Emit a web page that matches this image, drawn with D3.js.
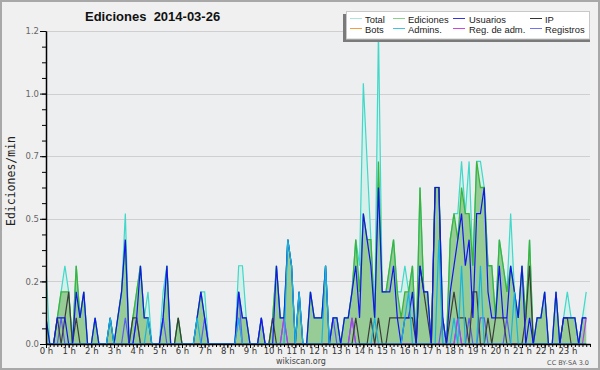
<!DOCTYPE html>
<html><head><meta charset="utf-8">
<script src="https://cdn.jsdelivr.net/npm/d3@7/dist/d3.min.js"></script>
<style>html,body{margin:0;padding:0;background:#f0f0f0}svg{display:block}</style>
</head><body><svg id="c" width="600" height="370"></svg>
<script>
// ---- data (edits per minute, 10-minute bins, 144 per day) ----
const hourLabels = ["0 h","1 h","2 h","3 h","4 h","5 h","6 h","7 h","8 h","9 h","10 h","11 h","12 h","13 h","14 h","15 h","16 h","17 h","18 h","19 h","20 h","21 h","22 h","23 h"];
const yTickValues = [0, 0.24, 0.48, 0.72, 0.96, 1.2];
const yMax = 1.2;

const total = [
 .3,0,0,.1,.2,.3,  .2,0,.3,.1,.2,0,  0,.1,0,0,0,.1,  0,.1,.2,.5,0,.1,
 .2,.3,.1,.2,0,0,  0,.2,.3,0,0,.1,  0,0,0,0,.1,.2,  .2,0,0,0,0,0,
 0,0,0,.3,.3,.1,  0,0,0,.1,0,0,  .1,.3,.1,.1,.4,.3,  0,.2,0,0,.2,.1,
 .1,.1,.3,0,.1,.1,  0,.1,.1,.2,.4,.3,  1.0,.7,.4,.1,1.2,.2,  .2,.3,.4,.2,.2,.3,
 .2,.3,0,.6,.2,.2,  0,.6,.6,.1,0,.4,  .5,.5,.7,.5,.7,.3,  .7,.7,.6,.3,.3,.1,
 .4,.3,.2,.5,.2,.1,  .3,.1,.4,0,.1,.1,  .2,0,0,.2,0,.1,  .2,.1,.1,0,.1,.2
];
const ediciones = [
 .1,0,0,.1,.2,.2,  .2,0,.3,.1,.2,0,  0,.1,0,0,0,.1,  0,.1,.2,.4,0,.1,
 .2,.3,.1,.1,0,0,  0,.1,.3,0,0,.1,  0,0,0,0,.1,.2,  .1,0,0,0,0,0,
 0,0,0,.2,.1,.1,  0,0,0,.1,0,0,  .1,.3,.1,.1,.4,.3,  0,.2,0,0,.2,.1,
 .1,.1,.3,0,.1,.1,  0,.1,.1,.2,.4,.2,  .5,.4,.4,.1,.7,.2,  .2,.3,.4,.2,.1,.2,
 .2,.3,0,.6,.2,.2,  0,.6,.6,.1,0,.4,  .5,.4,.6,.5,.5,.3,  .7,.6,.6,.3,.3,.1,
 .4,.3,.2,.3,.2,.1,  .3,.1,.4,0,.1,.1,  .2,0,0,.2,0,.1,  .1,.1,.1,0,.1,.1
];
const usuarios = [
 .1,0,0,.1,.1,.1,  0,0,.2,.1,.2,0,  0,.1,0,0,0,.1,  0,.1,.2,.4,0,0,
 .1,.3,.1,.1,0,0,  0,.1,.3,0,0,0,  0,0,0,0,.1,.2,  .1,0,0,0,0,0,
 0,0,0,.2,.1,.1,  0,0,0,.1,0,0,  0,.3,.1,.1,.4,.3,  0,.2,0,0,.2,.1,
 .1,.1,.3,0,.1,.1,  0,.1,.1,.2,.3,.1,  .5,.4,.3,.1,.6,.2,  .2,.2,.3,.1,0,.1,
 .1,.2,0,.3,.2,.2,  0,.6,.6,.1,0,.2,  .3,.4,.5,.3,.4,.1,  .5,.5,.6,.2,.1,.1,
 .3,.1,.1,.3,.2,.1,  .3,0,.1,0,.1,.1,  .2,0,0,.2,0,.1,  .1,.1,.1,0,.1,.1
];
const ip = [
 0,0,0,.1,0,.1,  .2,0,.1,0,0,0,  0,0,0,0,0,0,  0,0,0,0,0,.1,
 .1,0,0,0,0,0,  0,0,0,0,0,.1,  0,0,0,0,0,0,  0,0,0,0,0,0,
 0,0,0,0,0,0,  0,0,0,0,0,0,  .1,0,0,0,0,0,  0,0,0,0,0,0,
 0,0,0,0,0,0,  0,0,0,0,.1,0,  0,0,.1,0,.1,0,  0,.1,.1,.1,.1,.1,
 .1,.1,0,.3,.2,.1,  0,.6,.6,0,0,.1,  .2,.1,.1,.1,0,.2,  .2,0,0,.1,0,.1,
 .1,.1,0,0,0,0,  0,.1,.3,0,0,0,  0,0,0,0,0,.1,  .1,0,0,0,0,0
];
const bots = new Array(144).fill(0);
const admins = [
 0,0,0,0,0,0,  0,0,0,0,0,0,  0,0,0,0,0,.1,  0,0,0,0,0,0,
 0,0,0,.1,0,0,  0,0,0,0,0,0,  0,0,0,0,.1,0,  0,0,0,0,0,0,
 0,0,0,.1,0,0,  0,0,0,0,0,0,  0,0,0,0,.4,.3,  0,.2,0,0,0,0,
 0,0,.3,0,0,0,  0,0,0,0,0,0,  0,0,0,.1,0,0,  0,0,0,0,0,.1,
 .2,0,0,0,0,0,  0,0,.4,0,0,0,  .1,0,.3,0,0,0,  0,.3,0,0,0,0,
 0,0,0,0,.2,0,  0,0,0,0,0,0,  0,0,0,0,0,0,  0,0,0,0,0,0
];
const regAdm = [
 0,0,0,0,0,0,  0,0,0,0,0,0,  0,0,0,0,0,0,  0,0,0,0,0,0,
 0,0,0,0,0,0,  0,0,0,0,0,0,  0,0,0,0,0,0,  0,0,0,0,0,0,
 0,0,0,.1,0,0,  0,0,0,0,0,0,  0,0,0,.1,0,0,  0,0,0,0,0,0,
 0,0,0,0,0,0,  0,0,0,.1,0,0,  0,0,0,0,0,0,  0,0,0,0,0,0,
 0,0,0,0,0,0,  0,0,0,0,0,0,  0,.1,0,0,0,0,  0,0,0,0,0,0,
 0,0,0,0,0,0,  0,0,0,0,0,0,  0,0,0,0,0,0,  0,0,0,0,0,.1
];
const registros = [
 0,0,0,0,.1,0,  0,0,0,0,0,0,  0,0,0,0,0,0,  0,0,0,.1,0,0,
 .1,0,0,0,0,0,  0,.1,0,0,0,0,  0,0,0,0,0,0,  .1,0,0,0,0,0,
 0,0,0,.2,0,0,  0,0,0,.1,0,0,  0,0,0,.1,0,0,  0,0,0,0,0,0,
 0,0,0,0,.1,0,  0,0,0,.1,0,0,  0,0,0,0,0,0,  0,0,0,0,0,0,
 0,0,0,0,0,0,  0,0,0,.1,0,0,  0,.1,0,0,.1,0,  0,.1,.1,0,0,0,
 0,0,.1,0,0,0,  0,0,0,0,0,0,  0,0,0,0,0,0,  0,0,0,0,.1,.1
];

const legendItems = [
  {name:"Total", color:"#a9e6df"}, {name:"Ediciones", color:"#86d286"},
  {name:"Usuarios", color:"#3434e4"}, {name:"IP", color:"#333333"},
  {name:"Bots", color:"#f0a040"}, {name:"Admins.", color:"#40c4e0"},
  {name:"Reg. de adm.", color:"#c848e0"}, {name:"Registros", color:"#7474ee"}
];

// ---- drawing ----
const svg = d3.select("#c");
const x = d3.scaleLinear().domain([0, 144]).range([46, 590]);
const y = d3.scaleLinear().domain([0, yMax]).range([344, 31]);
const idx = d3.range(144);

svg.append("rect").attr("x",0).attr("y",0).attr("width",600).attr("height",370).attr("fill","#f0f0f0");
svg.append("rect").attr("x",1).attr("y",1).attr("width",598).attr("height",368)
   .attr("fill","none").attr("stroke","#a8a8a8").attr("stroke-width",2);
svg.append("rect").attr("x",46).attr("y",31).attr("width",544).attr("height",313).attr("fill","#eceef0");

// gridlines
svg.append("g").selectAll("line").data(yTickValues.slice(1)).join("line")
  .attr("x1",46).attr("x2",590).attr("y1",d=>Math.round(y(d))+0.5).attr("y2",d=>Math.round(y(d))+0.5)
  .attr("stroke","#cfcfd2").attr("stroke-width",1);

svg.append("clipPath").attr("id","pc").append("rect")
  .attr("x",46).attr("y",30).attr("width",544).attr("height",315);
const plot = svg.append("g").attr("clip-path","url(#pc)");

const area = arr => d3.area().x(i=>x(i)).y0(y(0)).y1(i=>y(arr[i]))(idx);
const line = arr => d3.line().x(i=>x(i)).y(i=>y(arr[i]))(idx);

plot.append("path").attr("d", area(total)).attr("fill","#d3efea").attr("opacity",0.9);
plot.append("path").attr("d", area(ediciones)).attr("fill","#97cc97");

const lineSeries = [
  {d: total, c:"#40d8c8", w:1.2},
  {d: ediciones, c:"#3cb43c", w:1.3},
  {d: registros, c:"#5c5cf0", w:1.2},
  {d: regAdm, c:"#b040e8", w:1.2},
  {d: bots, c:"#f0a040", skip:true},
  {d: ip, c:"#3c3c3c", w:1.2},
  {d: usuarios, c:"#1414f0", w:1.2},
  {d: admins, c:"#18b4e0", w:1.2}
];
lineSeries.forEach(s => {
  if (s.skip) return;
  plot.append("path").attr("d", line(s.d)).attr("fill","none")
    .attr("stroke", s.c).attr("stroke-width",s.w).attr("stroke-linejoin","miter");
});

// y axis
const yMinor = d3.range(21).map(k => k * 0.06);
const yAx = svg.append("g").attr("transform","translate(46,0)")
  .call(d3.axisLeft(y).tickValues(yMinor).tickSize(4).tickSizeOuter(0).tickFormat(""));
yAx.select(".domain").attr("stroke","#000");
yAx.selectAll(".tick line").attr("stroke","#000");
const yAx2 = svg.append("g").attr("transform","translate(46,0)")
  .call(d3.axisLeft(y).tickValues(yTickValues).tickSize(6).tickSizeOuter(0).tickFormat(d3.format(".1f")).tickPadding(1));
yAx2.select(".domain").attr("stroke","#000").attr("stroke-width",1.5);
yAx2.selectAll(".tick line").attr("stroke","#000");
yAx2.selectAll(".tick text").attr("font-family","DejaVu Sans").attr("font-size","8.5px").attr("fill","#666");

// x axis
const xAx = svg.append("g").attr("transform","translate(0,344)")
  .call(d3.axisBottom(x).tickValues(d3.range(145)).tickSize(3).tickSizeOuter(0).tickFormat(""));
xAx.select(".domain").attr("stroke","#000").attr("stroke-width",1.5);
xAx.selectAll(".tick line").attr("stroke","#000");
const xAx2 = svg.append("g").attr("transform","translate(0,344)")
  .call(d3.axisBottom(x).tickValues(d3.range(24).map(h=>h*6)).tickSize(4).tickSizeOuter(0)
    .tickFormat((d,i)=>hourLabels[i]).tickPadding(0));
xAx2.select(".domain").remove();
xAx2.selectAll(".tick line").attr("stroke","#000");
xAx2.selectAll(".tick text").attr("font-family","DejaVu Sans").attr("font-size","8.5px").attr("fill","#333");

// titles
svg.append("text").attr("x",85).attr("y",21).attr("font-family","Liberation Sans")
  .attr("font-weight","bold").attr("font-size","13px").attr("fill","#111")
  .style("white-space","pre").text("Ediciones  2014-03-26");
svg.append("text").attr("transform","translate(15,181) rotate(-90)").attr("text-anchor","middle")
  .attr("font-family","DejaVu Sans Mono").attr("font-size","11.5px").attr("fill","#222").text("Ediciones/min");
svg.append("text").attr("x",301).attr("y",364).attr("text-anchor","middle")
  .attr("font-family","DejaVu Sans").attr("font-size","8px").attr("fill","#444").text("wikiscan.org");
svg.append("text").attr("x",589).attr("y",365).attr("text-anchor","end")
  .attr("font-family","DejaVu Sans").attr("font-size","6.5px").attr("fill","#555").text("CC BY-SA 3.0");

// legend
const lg = svg.append("g");
lg.append("rect").attr("x",343).attr("y",14).attr("width",247).attr("height",28).attr("fill","#7a7a7a");
lg.append("rect").attr("x",346.5).attr("y",11.5).attr("width",243).attr("height",27.5)
  .attr("fill","#ffffff").attr("stroke","#c8c8c8");
const colLine = [350, 393, 453, 530];
const colText = [365, 408, 469, 545];
legendItems.forEach((it, k) => {
  const c = k % 4, r = Math.floor(k / 4);
  const ly = 18.5 + r * 10;
  lg.append("line").attr("x1",colLine[c]).attr("x2",colLine[c]+12).attr("y1",ly).attr("y2",ly)
    .attr("stroke",it.color).attr("stroke-width",1);
  lg.append("text").attr("x",colText[c]).attr("y",ly+4).attr("font-family","Liberation Sans")
    .attr("font-size","9.4px").attr("fill","#222").text(it.name);
});
</script></body></html>
